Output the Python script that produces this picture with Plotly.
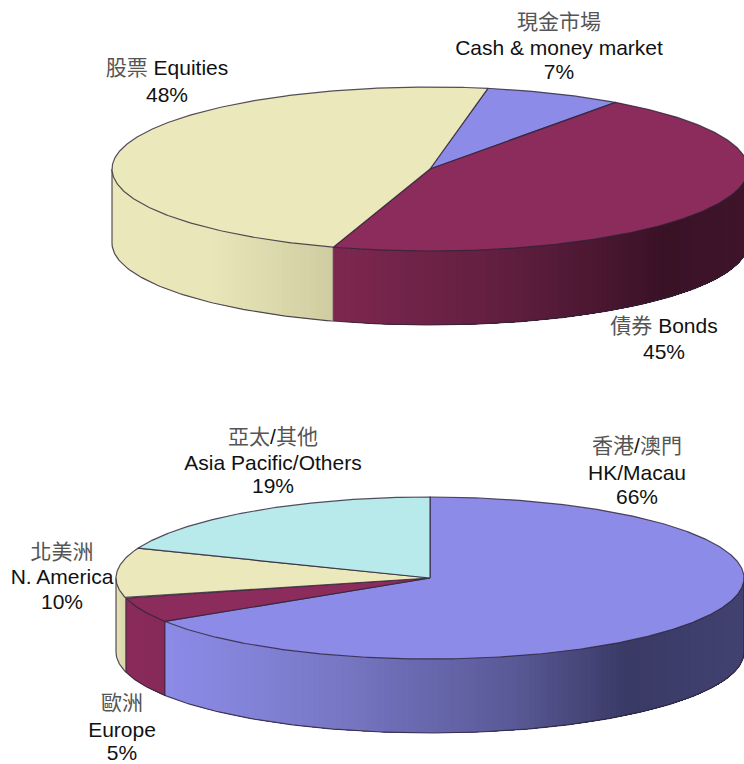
import re
import numpy as np
import plotly.graph_objects as go

# ---- data ----
asset_names = ["Cash & money market", "Bonds", "Equities"]
asset_values = [7, 45, 48]
region_names = ["HK/Macau", "Europe", "N. America", "Asia Pacific/Others"]
region_values = [66, 5, 10, 19]

# ---- styles ----
asset_colors = ["#8C8CE8", "#8B2C5C", "#EBE9BC"]
region_colors = ["#8C8CE8", "#8B2C5C", "#EBE9BC", "#B8E9EB"]
asset_geom = dict(cx=430, cy=169, rx=318, ry=82, depth=74, start=10.5)
region_geom = dict(cx=430, cy=578, rx=314, ry=81, depth=74, start=0)
asset_side = {
    "Equities": [(0.0, "#EBE9BC"), (0.45, "#E9E7BA"), (1.0, "#CFCDA1")],
    "Bonds": [(0.0, "#7E2850"), (0.45, "#5E1E3E"), (0.8, "#3A1226"), (1.0, "#40152B")],
}
region_side = {
    "N. America": [(0.0, "#E4E2B6"), (1.0, "#D8D6AA")],
    "Europe": [(0.0, "#8B2C5C"), (1.0, "#862A58")],
    "HK/Macau": [(0.0, "#8C8CE8"), (0.25, "#7C7CCC"), (0.6, "#5A5A98"), (0.8, "#3A3A66"), (1.0, "#434372")],
}
OUTLINE = "rgba(45,35,55,0.8)"
CJK_COLOR = "#555555"

label_lines = [
    ("現金市場", 559, 24), ("Cash & money market", 559, 50), ("7%", 559, 74),
    ("股票 Equities", 167, 70), ("48%", 167, 97),
    ("債券 Bonds", 664, 328), ("45%", 664, 354),
    ("亞太/其他", 273, 439), ("Asia Pacific/Others", 273, 465), ("19%", 273, 488),
    ("香港/澳門", 637, 448), ("HK/Macau", 637, 475), ("66%", 637, 499),
    ("北美洲", 62, 554), ("N. America", 62, 579), ("10%", 62, 604),
    ("歐洲", 122, 705), ("Europe", 122, 732), ("5%", 122, 755),
]


def hex_rgb(h):
    return np.array([int(h[i:i + 2], 16) for i in (1, 3, 5)], dtype=float)


def ramp(stops, t):
    for (t0, c0), (t1, c1) in zip(stops, stops[1:]):
        if t <= t1:
            f = (t - t0) / max(t1 - t0, 1e-9)
            c = hex_rgb(c0) + (hex_rgb(c1) - hex_rgb(c0)) * f
            return "rgb(%d,%d,%d)" % tuple(c)
    return stops[-1][1]


def pt(g, deg, down=0.0):
    a = np.radians(deg)
    return g["cx"] + g["rx"] * np.sin(a), g["cy"] - g["ry"] * np.cos(a) + down


def add_poly(fig, x, y, fill, line, width):
    fig.add_trace(go.Scatter(
        x=list(x), y=list(y), mode="lines", fill="toself", fillcolor=fill,
        line=dict(color=line, width=width), hoverinfo="skip", showlegend=False))


def add_line(fig, x, y):
    fig.add_trace(go.Scatter(
        x=list(x), y=list(y), mode="lines", line=dict(color=OUTLINE, width=1.2),
        hoverinfo="skip", showlegend=False))


def draw_pie(fig, names, values, colors, side, g):
    total = sum(values)
    edges = [g["start"]]
    for v in values:
        edges.append(edges[-1] + v / total * 360)
    d = g["depth"]
    # side wall: painted from the slice's left end rightward, each band covering the rest
    for name, a0, a1 in zip(names, edges, edges[1:]):
        lo, hi = max(a0, 90), min(a1, 270)
        if lo >= hi or name not in side:
            continue
        n = max(int((hi - lo) * 0.9), 2)
        steps = np.linspace(hi, lo, n + 1)
        xl, xr = pt(g, hi)[0], pt(g, lo)[0]
        for s0, s1 in zip(steps, steps[1:]):
            xm = pt(g, (s0 + s1) / 2)[0]
            col = ramp(side[name], (xm - xl) / max(xr - xl, 1e-9))
            arc = np.linspace(s0, lo, max(int((s0 - lo) / 4), 2))
            tx, ty = pt(g, arc)
            bx, by = pt(g, arc[::-1], d)
            add_poly(fig, np.r_[tx, bx, tx[0]], np.r_[ty, by, ty[0]], col, col, 0)
    # wall outlines
    arc = np.linspace(90, 270, 181)
    bx, by = pt(g, arc, d)
    add_line(fig, bx, by)
    for a in [90, 270] + [e % 360 for e in edges]:
        if 90 <= a <= 270:
            x0, y0 = pt(g, a)
            x1, y1 = pt(g, a, d)
            add_line(fig, [x0, x1], [y0, y1])
    # top face
    for a0, a1, col in zip(edges, edges[1:], colors):
        arc = np.linspace(a0, a1, max(int(a1 - a0) * 2, 4))
        x, y = pt(g, arc)
        add_poly(fig, np.r_[g["cx"], x, g["cx"]], np.r_[g["cy"], y, g["cy"]], col, OUTLINE, 1.2)


def styled(t):
    return re.sub(r"([\u4e00-\u9fff]+)",
                  lambda m: '<span style="fill:%s;">%s</span>' % (CJK_COLOR, m.group(1)), t)


fig = go.Figure()
draw_pie(fig, asset_names, asset_values, asset_colors, asset_side, asset_geom)
draw_pie(fig, region_names, region_values, region_colors, region_side, region_geom)

fig.add_trace(go.Scatter(
    x=[l[1] for l in label_lines], y=[l[2] for l in label_lines],
    text=[styled(l[0]) for l in label_lines], mode="text", textposition="middle center",
    textfont=dict(family="Liberation Sans, Noto Sans CJK TC, sans-serif", size=21, color="#111111"),
    hoverinfo="skip", showlegend=False, cliponaxis=False))

fig.update_layout(
    width=744, height=764, margin=dict(l=0, r=0, t=0, b=0), autosize=False,
    paper_bgcolor="white", plot_bgcolor="white", showlegend=False,
    xaxis=dict(range=[0, 744], visible=False, fixedrange=True),
    yaxis=dict(range=[764, 0], visible=False, fixedrange=True),
)
fig.write_html("out.html", config={"displayModeBar": False},
               post_script="document.body.style.margin='0';document.documentElement.style.overflow='hidden';")
